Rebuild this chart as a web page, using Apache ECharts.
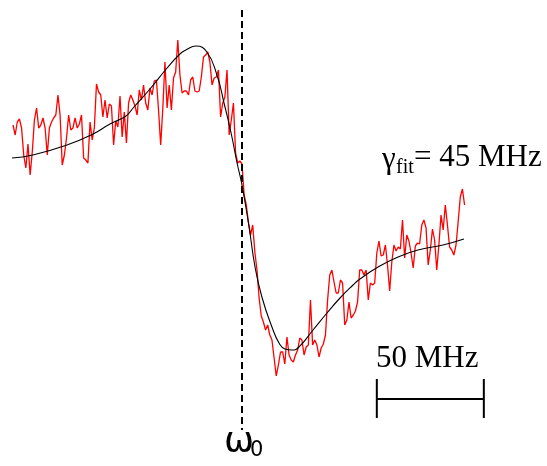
<!DOCTYPE html>
<html>
<head>
<meta charset="utf-8">
<script src="https://cdn.jsdelivr.net/npm/echarts@6/dist/echarts.min.js"></script>
<style>
html,body{margin:0;padding:0;background:#fff;}
#chart{width:547px;height:466px;}
</style>
</head>
<body>
<div id="chart"></div>
<script>
// detuning from omega0 in MHz (measured points)
const freqs = [
-107,-106,-105,-104,-103,-102,-101,-100,-99,-98,-97,-96,-95,-94,-93,-92,-91,-90,-89,-88,-87,-86,-85,-84,-83,-82,-81,
-80,-79,-78,-77,-76,-75,-74,-73,-72,-71,-70,-69,-68,-67,-66,-65,-64,-63,-62,-61,-60,-59,-58,-57,-56,-55,-54,
-53,-52,-51,-50,-49,-48,-47,-46,-45,-44,-43,-42,-41,-40,-39,-38,-37,-36,-35,-34,-33,-32,-31,-30,-29,-28,-27,
-26,-25,-24,-23,-22,-21,-20,-19,-18,-17,-16,-15,-14,-13,-12,-11,-10,-9,-8,-7,-6,-5,-4,-3,-2,-1,0,
1,2,3,4,5,6,7,8,9,10,11,12,13,14,15,16,17,18,19,20,21,22,23,24,25,26,27,28,
29,30,31,32,33,34,35,36,37,38,39,40,41,42,43,44,45,46,47,48,49,50,51,52,53,54,
55,56,57,58,59,60,61,62,63,64,65,66,67,68,69,70,71,72,73,74,75,76,77,78,79,80,81,
82,83,84,85,86,87,88,89,90,91,92,93,94,95,96,97,98,99,100,101,102,103,104
];
// measured signal (arb. units)
const signal = [
0.75,0.65,0.78,0.81,0.72,0.45,0.32,0.56,0.25,0.48,0.80,0.92,0.72,0.75,0.82,0.72,0.45,0.72,0.78,0.82,0.85,1.05,0.85,0.35,0.45,0.62,0.85,
0.70,0.72,0.82,0.72,0.76,0.85,0.42,0.40,0.37,0.78,0.60,0.72,1.16,1.08,1.05,0.83,1.00,0.82,0.96,0.94,0.55,0.79,0.73,1.04,0.63,0.88,0.57,
0.97,1.05,1.00,0.94,0.85,1.10,1.00,1.15,0.97,0.90,1.12,1.05,1.19,1.20,0.90,0.55,0.92,1.38,0.92,1.15,0.90,1.22,1.28,1.60,1.25,1.07,1.09,
1.09,1.05,1.20,1.23,1.09,1.08,1.09,1.23,1.43,1.45,1.48,1.38,1.15,1.22,1.23,1.30,0.83,0.97,1.03,1.30,0.65,0.80,0.97,0.47,0.37,0.39,0.36,
0.05,-0.05,-0.22,-0.35,-0.25,-0.52,-0.70,-0.98,-1.16,-1.22,-1.30,-1.25,-1.35,-1.40,-1.58,-1.76,-1.65,-1.52,-1.52,-1.64,-1.37,-1.55,-1.60,-1.62,-1.55,-1.50,-1.38,-1.40,
-1.55,-1.47,-1.45,-1.00,-1.45,-1.40,-1.45,-1.57,-1.48,-1.44,-1.35,-1.00,-0.75,-0.70,-0.82,-0.93,-0.93,-0.80,-0.83,-1.25,-1.20,-1.02,-1.18,-1.15,-1.11,-1.02,
-0.70,-0.70,-0.75,-0.70,-1.00,-0.83,-0.85,-0.83,-0.53,-0.41,-0.56,-0.55,-0.45,-0.65,-0.91,-0.62,-0.45,-0.51,-0.47,-0.49,-0.20,-0.58,-0.35,-0.41,-0.53,-0.68,-0.46,
-0.43,-0.44,-0.25,-0.20,-0.28,-0.65,-0.50,-0.29,-0.40,-0.70,-0.45,-0.15,-0.30,-0.05,-0.25,-0.47,-0.50,-0.55,-0.45,-0.22,0.03,0.11,-0.05
];
// fitted curve
const fitFreqs  = [-107.5,-97.7,-81.8,-69.6,-61.7,-54.2,-50.9,-43.0,-35.0,-29.0,-26.2,-21.5,-16.4,-11.7,-8.4,-5.1,-2.3,0,3.3,6.1,9.3,14.0,17.3,20.1,23.4,26.6,33.2,39.7,45.8,51.9,55.1,63.6,72.9,82.2,93.9,103.7];
const fitSignal = [0.42,0.45,0.55,0.66,0.76,0.84,0.92,1.11,1.32,1.46,1.50,1.54,1.48,1.25,0.97,0.67,0.37,0.15,-0.27,-0.67,-0.97,-1.27,-1.43,-1.49,-1.50,-1.47,-1.30,-1.13,-0.98,-0.85,-0.79,-0.67,-0.57,-0.50,-0.45,-0.39];

const omega0 = 0;
const gammaFitMHz = 45;
const scaleBarMHz = 50;
const scaleBarStart = 63;

const chart = echarts.init(document.getElementById('chart'), null, {renderer:'canvas'});
const xMin = -113.08, xMax = 142.52, yMin = -2.66, yMax = 2.0;
const barY = -1.99, capTop = -1.79, capBot = -2.18;

const blackLine = (data, w) => ({
  type:'line', data, symbol:'none', silent:true, animation:false,
  lineStyle:{color:'#000', width:w}
});

chart.setOption({
  animation:false,
  grid:{left:0,right:0,top:0,bottom:0},
  xAxis:{type:'value',min:xMin,max:xMax,show:false,splitLine:{show:false}},
  yAxis:{type:'value',min:yMin,max:yMax,show:false,splitLine:{show:false}},
  series:[
    {
      type:'line', symbol:'none', animation:false,
      data: freqs.map((f,i)=>[f, signal[i]]),
      lineStyle:{color:'#ff0000', width:1.3},
      z:2
    },
    {
      type:'line', symbol:'none', smooth:true, animation:false,
      data: fitFreqs.map((f,i)=>[f, fitSignal[i]]),
      lineStyle:{color:'#000', width:1.1},
      z:3
    },
    {
      type:'line', symbol:'none', animation:false,
      data: [[omega0, 1.9],[omega0, -2.3]],
      lineStyle:{color:'#000', width:2, type:[7,4]},
      z:4
    },
    blackLine([[scaleBarStart, barY],[scaleBarStart+scaleBarMHz, barY]], 2),
    blackLine([[scaleBarStart, capTop],[scaleBarStart, capBot]], 2),
    blackLine([[scaleBarStart+scaleBarMHz, capTop],[scaleBarStart+scaleBarMHz, capBot]], 2)
  ],
  graphic:[
    {type:'text', x:382, y:160, style:{text:'γ', font:'31px "Liberation Serif"', fill:'#000', verticalAlign:'middle'}},
    {type:'text', x:396, y:168, style:{text:'fit', font:'20px "Liberation Serif"', fill:'#000', verticalAlign:'middle'}},
    {type:'text', x:414, y:158, style:{text:'= ' + gammaFitMHz + ' MHz', font:'31px "Liberation Serif"', fill:'#000', verticalAlign:'middle'}},
    {type:'text', x:376, y:359, style:{text:scaleBarMHz + ' MHz', font:'31px "Liberation Serif"', fill:'#000', verticalAlign:'middle'}},
    {type:'text', x:224, y:443, style:{text:'ω', font:'36px "DejaVu Sans"', fill:'#000', verticalAlign:'middle'}},
    {type:'text', x:250, y:451, style:{text:'0', font:'21px "DejaVu Sans"', fill:'#000', verticalAlign:'middle'}}
  ]
});
</script>
</body>
</html>
